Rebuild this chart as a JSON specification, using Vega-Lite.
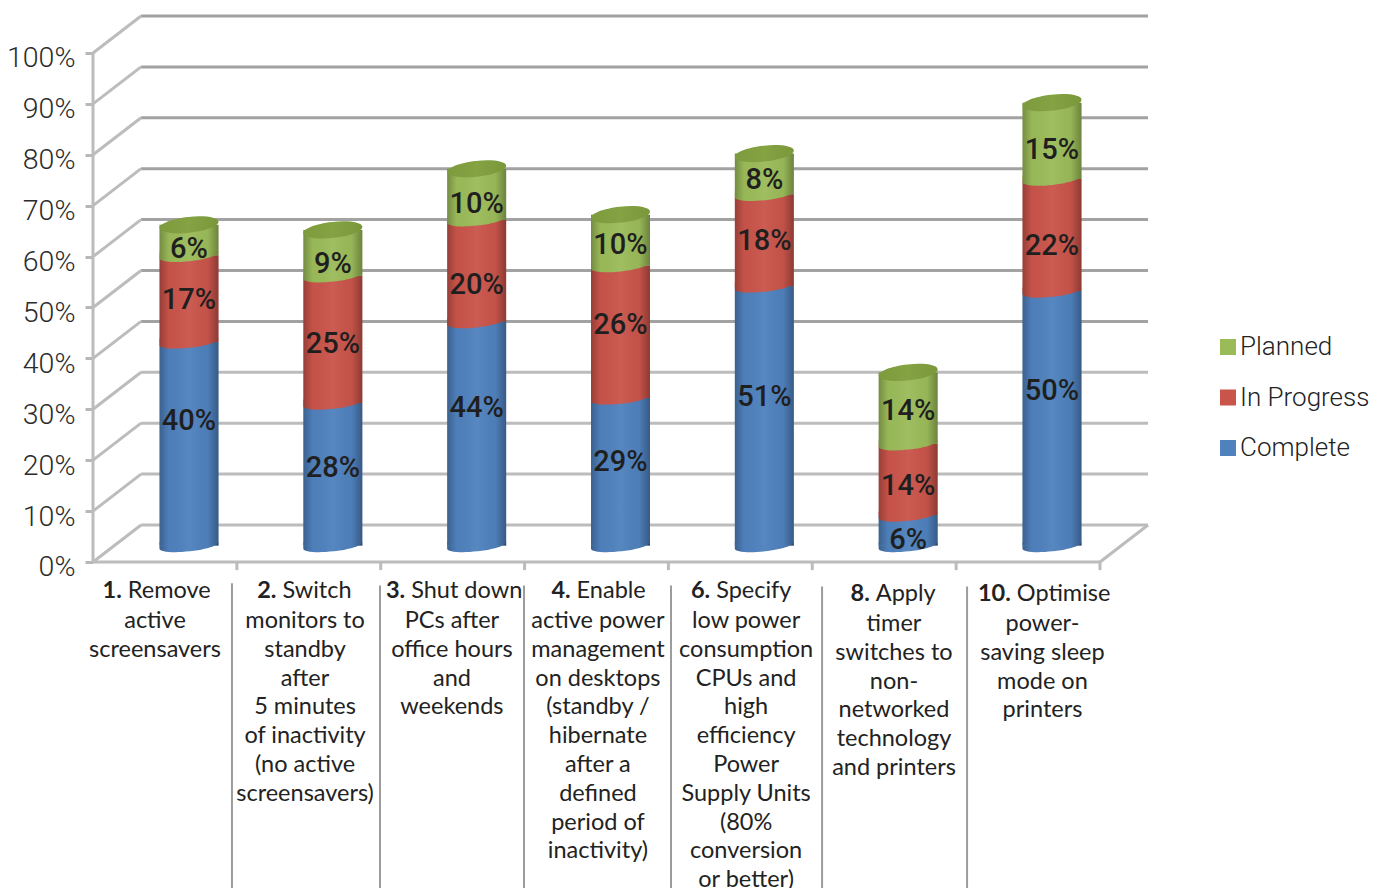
{
  "$schema": "https://vega.github.io/schema/vega-lite/v6.json",
  "width": 1389,
  "height": 888,
  "padding": 0,
  "autosize": "none",
  "background": "white",
  "config": {"view": {"stroke": null}, "font": "Roboto"},
  "datasets": {
    "frame": [
      {"x0": 0.334, "x1": 7.334, "y0": 7.27, "y1": 7.27},
      {"x0": 0.334, "x1": 7.334, "y0": 17.27, "y1": 17.27},
      {"x0": 0.334, "x1": 7.334, "y0": 27.27, "y1": 27.27},
      {"x0": 0.334, "x1": 7.334, "y0": 37.27, "y1": 37.27},
      {"x0": 0.334, "x1": 7.334, "y0": 47.27, "y1": 47.27},
      {"x0": 0.334, "x1": 7.334, "y0": 57.27, "y1": 57.27},
      {"x0": 0.334, "x1": 7.334, "y0": 67.27, "y1": 67.27},
      {"x0": 0.334, "x1": 7.334, "y0": 77.27, "y1": 77.27},
      {"x0": 0.334, "x1": 7.334, "y0": 87.27, "y1": 87.27},
      {"x0": 0.334, "x1": 7.334, "y0": 97.27, "y1": 97.27},
      {"x0": 0.334, "x1": 7.334, "y0": 107.27, "y1": 107.27},
      {"x0": 0, "x1": 0.334, "y0": 0, "y1": 7.27},
      {"x0": 0, "x1": 0.334, "y0": 10, "y1": 17.27},
      {"x0": 0, "x1": 0.334, "y0": 20, "y1": 27.27},
      {"x0": 0, "x1": 0.334, "y0": 30, "y1": 37.27},
      {"x0": 0, "x1": 0.334, "y0": 40, "y1": 47.27},
      {"x0": 0, "x1": 0.334, "y0": 50, "y1": 57.27},
      {"x0": 0, "x1": 0.334, "y0": 60, "y1": 67.27},
      {"x0": 0, "x1": 0.334, "y0": 70, "y1": 77.27},
      {"x0": 0, "x1": 0.334, "y0": 80, "y1": 87.27},
      {"x0": 0, "x1": 0.334, "y0": 90, "y1": 97.27},
      {"x0": 0, "x1": 0.334, "y0": 100, "y1": 107.27},
      {"x0": 0, "x1": 0, "y0": 0, "y1": 100},
      {"x0": 0, "x1": 7, "y0": 0, "y1": 0},
      {"x0": 7, "x1": 7.334, "y0": 0, "y1": 7.27},
      {"x0": 1, "x1": 1, "y0": 0, "y1": -1.6},
      {"x0": 2, "x1": 2, "y0": 0, "y1": -1.6},
      {"x0": 3, "x1": 3, "y0": 0, "y1": -1.6},
      {"x0": 4, "x1": 4, "y0": 0, "y1": -1.6},
      {"x0": 5, "x1": 5, "y0": 0, "y1": -1.6},
      {"x0": 6, "x1": 6, "y0": 0, "y1": -1.6},
      {"x0": 7, "x1": 7, "y0": 0, "y1": -1.6}
    ],
    "dividers": [
      {"x": 0.966, "top": -4.2},
      {"x": 1.995, "top": -4.6},
      {"x": 2.996, "top": -4.6},
      {"x": 4.018, "top": -4.6},
      {"x": 5.068, "top": -4.8},
      {"x": 6.076, "top": -4.8}
    ],
    "captions": [
      {"n": "1.", "first": "Remove", "rest": "active\nscreensavers", "center": 0.431, "join": 0.2, "top": -5.7},
      {"n": "2.", "first": "Switch", "rest": "monitors to\nstandby\nafter\n5 minutes\nof inactivity\n(no active\nscreensavers)", "center": 1.474, "join": 1.275, "top": -5.7},
      {"n": "3.", "first": "Shut down", "rest": "PCs after\noffice hours\nand\nweekends", "center": 2.495, "join": 2.17, "top": -5.7},
      {"n": "4.", "first": "Enable", "rest": "active power\nmanagement\non desktops\n(standby /\nhibernate\nafter a\ndefined\nperiod of\ninactivity)", "center": 3.51, "join": 3.32, "top": -5.7},
      {"n": "6.", "first": "Specify", "rest": "low power\nconsumption\nCPUs and\nhigh\nefficiency\nPower\nSupply Units\n(80%\nconversion\nor better)", "center": 4.54, "join": 4.29, "top": -5.7},
      {"n": "8.", "first": "Apply", "rest": "timer\nswitches to\nnon-\nnetworked\ntechnology\nand printers", "center": 5.568, "join": 5.4, "top": -6.3},
      {"n": "10.", "first": "Optimise", "rest": "power-\nsaving sleep\nmode on\nprinters", "center": 6.6, "join": 6.38, "top": -6.3}
    ],
    "progress": [
      {"task": "1", "order": 1, "status": "Complete", "share": 40, "labelAt": 24.85},
      {"task": "1", "order": 2, "status": "In Progress", "share": 17, "labelAt": 48.6},
      {"task": "1", "order": 3, "status": "Planned", "share": 6, "labelAt": 58.6},
      {"task": "2", "order": 1, "status": "Complete", "share": 28, "labelAt": 15.6},
      {"task": "2", "order": 2, "status": "In Progress", "share": 25, "labelAt": 40.0},
      {"task": "2", "order": 3, "status": "Planned", "share": 9, "labelAt": 55.7},
      {"task": "3", "order": 1, "status": "Complete", "share": 44, "labelAt": 27.4},
      {"task": "3", "order": 2, "status": "In Progress", "share": 20, "labelAt": 51.6},
      {"task": "3", "order": 3, "status": "Planned", "share": 10, "labelAt": 67.5},
      {"task": "4", "order": 1, "status": "Complete", "share": 29, "labelAt": 16.8},
      {"task": "4", "order": 2, "status": "In Progress", "share": 26, "labelAt": 43.7},
      {"task": "4", "order": 3, "status": "Planned", "share": 10, "labelAt": 59.4},
      {"task": "6", "order": 1, "status": "Complete", "share": 51, "labelAt": 29.6},
      {"task": "6", "order": 2, "status": "In Progress", "share": 18, "labelAt": 60.2},
      {"task": "6", "order": 3, "status": "Planned", "share": 8, "labelAt": 72.2},
      {"task": "8", "order": 1, "status": "Complete", "share": 6, "labelAt": 1.5},
      {"task": "8", "order": 2, "status": "In Progress", "share": 14, "labelAt": 12.1},
      {"task": "8", "order": 3, "status": "Planned", "share": 14, "labelAt": 26.8},
      {"task": "10", "order": 1, "status": "Complete", "share": 50, "labelAt": 30.7},
      {"task": "10", "order": 2, "status": "In Progress", "share": 22, "labelAt": 59.2},
      {"task": "10", "order": 3, "status": "Planned", "share": 15, "labelAt": 78.1}
    ]
  },
  "layer": [
    {
      "layer": [
        {
          "data": {"name": "frame"},
          "mark": {"type": "rule", "strokeWidth": 3},
          "encoding": {
            "x": {"field": "x0", "type": "quantitative", "axis": null, "scale": {"domain": [-0.6465, 9.009], "nice": false, "zero": false}},
            "x2": {"field": "x1"},
            "y": {
              "field": "y0",
              "type": "quantitative",
              "title": null,
              "scale": {"domain": [-64.05, 110.41], "nice": false, "zero": false},
              "axis": {
                "orient": "left",
                "offset": -93,
                "values": [0, 10, 20, 30, 40, 50, 60, 70, 80, 90, 100],
                "labelExpr": "datum.value + '%'",
                "domain": false,
                "grid": false,
                "tickSize": 8,
                "tickWidth": 3,
                "tickColor": "#b8b8b8",
                "labelPadding": 10,
                "labelFontSize": 28.5,
                "labelColor": "#2b2b2b",
                "labelOffset": 5,
                "labelFontWeight": 300
              }
            },
            "y2": {"field": "y1"},
            "stroke": {
              "condition": {"test": "datum.y0 === datum.y1 && datum.y0 >= 47", "value": "#a2a2a2"},
              "value": "#bcbcbc"
            }
          }
        },
        {
          "data": {"name": "dividers"},
          "mark": {"type": "rule", "color": "#9c9c9c", "strokeWidth": 2},
          "encoding": {
            "x": {"field": "x", "type": "quantitative"},
            "y": {"field": "top", "type": "quantitative"},
            "y2": {"datum": -64.05}
          }
        },
        {
          "data": {"name": "captions"},
          "mark": {"type": "text", "font": "Lato", "align": "right", "baseline": "middle", "fontSize": 23.5, "fontWeight": 700, "color": "#222222"},
          "encoding": {
            "x": {"field": "join", "type": "quantitative"},
            "y": {"field": "top", "type": "quantitative"},
            "text": {"field": "n"}
          }
        },
        {
          "data": {"name": "captions"},
          "mark": {"type": "text", "font": "Lato", "align": "left", "baseline": "middle", "dx": 6, "fontSize": 23.5, "color": "#222222"},
          "encoding": {
            "x": {"field": "join", "type": "quantitative"},
            "y": {"field": "top", "type": "quantitative"},
            "text": {"field": "first"}
          }
        },
        {
          "data": {"name": "captions"},
          "mark": {"type": "text", "font": "Lato", "align": "center", "baseline": "top", "dy": 18, "lineBreak": "\n", "lineHeight": 28.8, "fontSize": 23.5, "color": "#222222"},
          "encoding": {
            "x": {"field": "center", "type": "quantitative"},
            "y": {"field": "top", "type": "quantitative"},
            "text": {"field": "rest"}
          }
        }
      ]
    },
    {
      "data": {"name": "progress"},
      "transform": [
        {"stack": "share", "groupby": ["task"], "sort": [{"field": "order", "order": "ascending"}], "as": ["low", "high"]},
        {"calculate": "datum.share + '%'", "as": "shareText"}
      ],
      "encoding": {
        "x": {"field": "task", "type": "nominal", "axis": null, "sort": null, "scale": {"type": "point", "padding": 0, "domain": ["1", "2", "3", "4", "6", "8", "10"], "range": [189, 1052]}},
        "y": {"field": "low", "type": "quantitative", "axis": null, "scale": {"domain": [-67.29, 107.17], "nice": false, "zero": false}}
      },
      "layer": [
        {
          "mark": {"type": "bar", "size": 59, "strokeWidth": 0},
          "encoding": {
            "y2": {"field": "high"},
            "color": {
              "field": "status",
              "type": "nominal",
              "scale": {"domain": ["Planned", "In Progress", "Complete"], "range": ["#9bbb59", "#c9544a", "#4f81bd"]},
              "legend": {
                "title": null,
                "orient": "none",
                "legendX": 1215,
                "legendY": 334,
                "symbolType": "square",
                "symbolSize": 256,
                "symbolStrokeWidth": 0,
                "symbolOpacity": 1,
                "labelFontSize": 26,
                "labelFontWeight": 300,
                "labelColor": "#222222",
                "labelOffset": -1,
                "rowPadding": 24.5
              }
            }
          }
        },
        {
          "mark": {"type": "point", "filled": true, "opacity": 1, "size": 3481, "shape": "M-1,-0.12L-1,0.11A1.006,0.2,-6.3,0,0,1,-0.11L1,-0.12Z"},
          "encoding": {
            "color": {"field": "status", "type": "nominal"}
          }
        },
        {
          "transform": [{"filter": "datum.order === 3"}],
          "mark": {
            "type": "bar",
            "size": 59,
            "color": {
              "gradient": "linear", "x1": 0, "y1": 0, "x2": 1, "y2": 0,
              "stops": [
                {"offset": 0, "color": "rgba(0,0,0,0.25)"},
                {"offset": 0.16, "color": "rgba(0,0,0,0.02)"},
                {"offset": 0.5, "color": "rgba(255,255,255,0.05)"},
                {"offset": 0.82, "color": "rgba(0,0,0,0.03)"},
                {"offset": 1, "color": "rgba(0,0,0,0.3)"}
              ]
            }
          },
          "encoding": {
            "y": {"datum": 0, "type": "quantitative"},
            "y2": {"field": "high"}
          }
        },
        {
          "transform": [{"filter": "datum.order === 1"}],
          "mark": {
            "type": "point",
            "filled": true,
            "opacity": 1,
            "size": 3481,
            "shape": "M-1,0.01L-1,0.11A1.006,0.2,-6.3,0,0,1,-0.11L1,0.01Z",
            "color": {
              "gradient": "linear", "x1": 0, "y1": 0, "x2": 1, "y2": 0,
              "stops": [
                {"offset": 0, "color": "rgba(0,0,0,0.25)"},
                {"offset": 0.16, "color": "rgba(0,0,0,0.02)"},
                {"offset": 0.5, "color": "rgba(255,255,255,0.05)"},
                {"offset": 0.82, "color": "rgba(0,0,0,0.03)"},
                {"offset": 1, "color": "rgba(0,0,0,0.3)"}
              ]
            }
          }
        },
        {
          "transform": [{"filter": "datum.order === 3"}],
          "mark": {
            "type": "point",
            "filled": true,
            "opacity": 1,
            "size": 3481,
            "shape": "M-1,0.11A1.006,0.27,-6.3,0,1,1,-0.11A1.006,0.27,-6.3,0,1,-1,0.11Z",
            "color": {
              "gradient": "linear", "x1": 0, "y1": 0, "x2": 1, "y2": 0,
              "stops": [
                {"offset": 0, "color": "#7d9a3e"},
                {"offset": 0.5, "color": "#85a343"},
                {"offset": 1, "color": "#7a973a"}
              ]
            }
          },
          "encoding": {
            "y": {"field": "high", "type": "quantitative"}
          }
        },
        {
          "mark": {"type": "text", "fontSize": 29, "fontWeight": 500, "color": "#1f1f1f", "baseline": "middle", "dy": 2},
          "encoding": {
            "y": {"field": "labelAt", "type": "quantitative"},
            "text": {"field": "shareText"},
            "detail": {"field": "status"}
          }
        }
      ]
    }
  ],
  "resolve": {"scale": {"x": "independent", "y": "independent"}}
}
